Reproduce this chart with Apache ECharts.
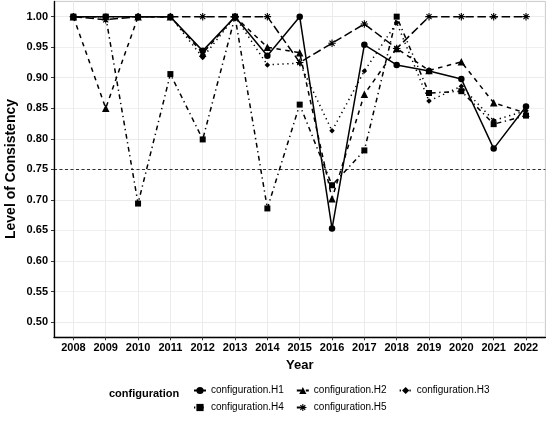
<!DOCTYPE html>
<html><head><meta charset="utf-8">
<script src="https://cdn.jsdelivr.net/npm/echarts@6/dist/echarts.min.js"></script>
<style>html,body{margin:0;padding:0;background:#fff}#c{width:550px;height:421px}</style>
</head><body><div id="c"></div>
<script>
const years = [2008,2009,2010,2011,2012,2013,2014,2015,2016,2017,2018,2019,2020,2021,2022];
const yTicks = [0.50,0.55,0.60,0.65,0.70,0.75,0.80,0.85,0.90,0.95,1.00];
const seriesNames = ['configuration.H1','configuration.H2','configuration.H3','configuration.H4','configuration.H5'];
const H1 = [1.00,1.00,1.00,1.00,0.944,1.00,0.936,1.00,0.653,0.954,0.921,0.911,0.898,0.784,0.853];
const H2 = [1.00,0.85,1.00,1.00,0.940,1.00,0.950,0.941,0.702,0.873,0.948,0.912,0.926,0.859,0.842];
const H3 = [1.00,1.00,1.00,1.00,0.933,1.00,0.921,0.924,0.813,0.911,0.990,0.862,0.886,0.830,0.846];
const H4 = [1.00,1.00,0.694,0.906,0.799,1.00,0.686,0.856,0.724,0.781,1.00,0.875,0.878,0.824,0.838];
const H5 = [1.00,0.995,1.00,1.00,1.00,1.00,1.00,0.925,0.9565,0.988,0.948,1.00,1.00,1.00,1.00];
const refLevel = 0.75;

const FONT = 'Liberation Sans, Arial, sans-serif';
const asterisk = 'path://M5,0L5,10M0,5L10,5M1.6,1.6L8.4,8.4M8.4,1.6L1.6,8.4';
const values = [H1,H2,H3,H4,H5];
const styles = [
  {symbol:'circle', size:6.5, dash:'solid'},
  {symbol:'triangle', size:7.5, dash:[4.5,4.5]},
  {symbol:'diamond', size:5.5, dash:[1.3,3.6]},
  {symbol:'rect', size:6, dash:[1.3,3.6,4.8,3.6]},
  {symbol:asterisk, size:7.5, dash:[8.5,3.6]}
];

const series = values.map((vals, i) => {
  const s = styles[i];
  const o = {
    name: seriesNames[i],
    type: 'line',
    data: years.map((y, k) => [y, vals[k]]),
    symbol: s.symbol,
    symbolSize: s.size,
    showAllSymbol: true,
    lineStyle: {color:'#000', width:1.5, type: s.dash},
    itemStyle: {color:'#000', borderColor:'#000', borderWidth: i === 4 ? 1.1 : 0},
    emphasis: {disabled: true},
    z: 3 + i
  };
  if (i === 0) {
    o.markLine = {
      silent: true, symbol: ['none','none'], label: {show:false},
      lineStyle: {color:'#000', width:0.8, type:[3,2.5]},
      data: [{yAxis: refLevel}]
    };
  }
  return o;
});

const legendText = {fontFamily:FONT, fontSize:10, color:'#000'};
const chart = echarts.init(document.getElementById('c'));
chart.setOption({
  animation: false,
  textStyle: {fontFamily: FONT},
  grid: {left:54, right:4.6, top:1.4, bottom:83.7, containLabel:false, outerBoundsMode:'none',
         show:true, borderColor:'#b3b3b3', borderWidth:0.7},
  xAxis: {
    type:'value', min:2007.4, max:2022.6,
    name:'Year', nameLocation:'middle', nameGap:22,
    nameTextStyle:{fontFamily:FONT, fontWeight:'bold', fontSize:13, color:'#000'},
    axisLine:{show:true, lineStyle:{color:'#000', width:1.3}},
    axisTick:{show:true, length:3, lineStyle:{color:'#333'}, customValues: years},
    axisLabel:{customValues: years, margin:5, fontFamily:FONT, fontWeight:'bold', fontSize:11, color:'#000', formatter: v => String(v)},
    splitLine:{show:true, lineStyle:{color:'#ebebeb', width:1}}
  },
  yAxis: {
    type:'value', min:0.475, max:1.025,
    axisLine:{show:true, lineStyle:{color:'#000', width:1.3}},
    axisTick:{show:true, length:3, lineStyle:{color:'#333'}, customValues: yTicks},
    axisLabel:{customValues: yTicks, margin:6, fontFamily:FONT, fontWeight:'bold', fontSize:11, color:'#000', formatter: v => v.toFixed(2)},
    splitLine:{show:true, lineStyle:{color:'#ebebeb', width:1}},
    minorTick:{show:false, splitNumber:2},
    minorSplitLine:{show:true, lineStyle:{color:'#f2f2f2', width:0.6}}
  },
  legend: [
    {data: seriesNames.slice(0,3), left:188, top:380.5, itemWidth:12, itemHeight:9, itemGap:12,
     selectedMode:false, textStyle:legendText},
    {data: [seriesNames[3], {name: seriesNames[4], itemStyle:{color:'#000', borderColor:'#000', borderWidth:1.1}}],
     left:188, top:397.5, itemWidth:12, itemHeight:9, itemGap:12,
     selectedMode:false, textStyle:legendText}
  ],
  graphic: [
    {type:'text', left:109, top:388.5, style:{text:'configuration', fontFamily:FONT, fontWeight:'bold', fontSize:11, fill:'#000'}},
    {type:'text', x:11.5, y:169, rotation: Math.PI/2,
     style:{text:'Level of Consistency', fontFamily:FONT, fontWeight:'bold', fontSize:14, fill:'#000',
            align:'center', verticalAlign:'middle', textAlign:'center', textVerticalAlign:'middle'}}
  ],
  series: series
});
</script></body></html>
